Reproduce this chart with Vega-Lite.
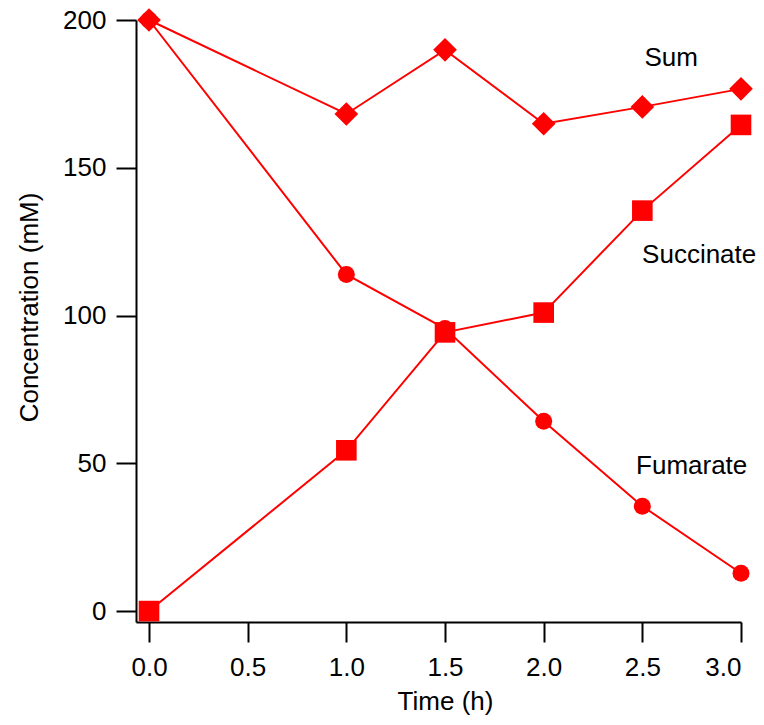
{
  "$schema": "https://vega.github.io/schema/vega-lite/v6.json",
  "width": 605,
  "height": 602,
  "autosize": "none",
  "padding": {"left": 136, "top": 20, "right": 23, "bottom": 103},
  "background": "white",
  "config": {
    "view": {"stroke": null},
    "font": "Liberation Sans",
    "axis": {
      "domainColor": "black",
      "domainWidth": 2,
      "tickColor": "black",
      "tickWidth": 2,
      "tickSize": 20,
      "grid": false,
      "labelFont": "Liberation Sans",
      "labelFontSize": 26,
      "labelColor": "black",
      "titleFont": "Liberation Sans",
      "titleFontSize": 26,
      "titleFontWeight": "normal",
      "titleColor": "black",
      "labelPadding": 10
    }
  },
  "datasets": {
    "series": [
      {"series": "Sum", "time": 0, "conc": 200},
      {"series": "Sum", "time": 1, "conc": 168.2},
      {"series": "Sum", "time": 1.5, "conc": 189.9},
      {"series": "Sum", "time": 2, "conc": 164.9},
      {"series": "Sum", "time": 2.5, "conc": 170.6},
      {"series": "Sum", "time": 3, "conc": 176.7},
      {"series": "Succinate", "time": 0, "conc": 0},
      {"series": "Succinate", "time": 1, "conc": 54.4},
      {"series": "Succinate", "time": 1.5, "conc": 94.3},
      {"series": "Succinate", "time": 2, "conc": 101},
      {"series": "Succinate", "time": 2.5, "conc": 135.5},
      {"series": "Succinate", "time": 3, "conc": 164.5},
      {"series": "Fumarate", "time": 0, "conc": 200},
      {"series": "Fumarate", "time": 1, "conc": 113.9},
      {"series": "Fumarate", "time": 1.5, "conc": 95.6},
      {"series": "Fumarate", "time": 2, "conc": 64.2},
      {"series": "Fumarate", "time": 2.5, "conc": 35.5},
      {"series": "Fumarate", "time": 3, "conc": 12.8}
    ],
    "labels": [
      {"label": "Sum", "time": 2.646, "conc": 187.2},
      {"label": "Succinate", "time": 2.788, "conc": 120.6},
      {"label": "Fumarate", "time": 2.75, "conc": 49}
    ]
  },
  "layer": [
    {
      "data": {"name": "series"},
      "mark": {"type": "line", "color": "#ff0000", "strokeWidth": 2},
      "encoding": {
        "x": {
          "field": "time", "type": "quantitative",
          "scale": {"domain": [-0.066, 3.0], "nice": false, "zero": false},
          "axis": {"values": [0, 0.5, 1, 1.5, 2, 2.5, 3], "format": ".1f", "title": "Time (h)", "titlePadding": 8, "labelPadding": 12, "titleX": 309}
        },
        "y": {
          "field": "conc", "type": "quantitative",
          "scale": {"domain": [-3.7, 200], "nice": false, "zero": false},
          "axis": {"values": [0, 50, 100, 150, 200], "title": "Concentration (mM)", "titlePadding": 20, "titleY": 287}
        },
        "detail": {"field": "series"}
      }
    },
    {
      "data": {"name": "series"},
      "mark": {"type": "point", "filled": true, "color": "#ff0000", "opacity": 1},
      "encoding": {
        "x": {"field": "time", "type": "quantitative"},
        "y": {"field": "conc", "type": "quantitative"},
        "shape": {
          "field": "series", "type": "nominal",
          "scale": {"domain": ["Sum", "Succinate", "Fumarate"], "range": ["diamond", "square", "circle"]},
          "legend": null
        },
        "size": {
          "field": "series", "type": "nominal",
          "scale": {"domain": ["Sum", "Succinate", "Fumarate"], "range": [560, 289, 324]},
          "legend": null
        }
      }
    },
    {
      "data": {"name": "labels"},
      "mark": {"type": "text", "font": "Liberation Sans", "fontSize": 26, "color": "black", "align": "center", "baseline": "middle"},
      "encoding": {
        "x": {"field": "time", "type": "quantitative"},
        "y": {"field": "conc", "type": "quantitative"},
        "text": {"field": "label"}
      }
    }
  ]
}
